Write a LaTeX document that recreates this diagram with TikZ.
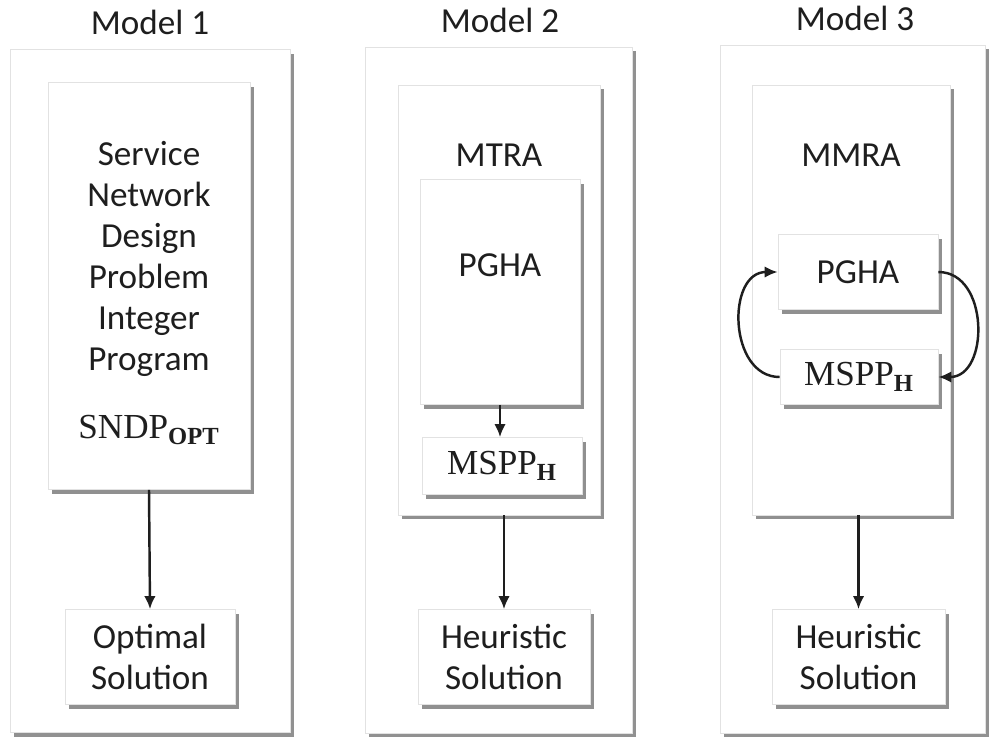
\documentclass[tikz,border=0pt]{standalone}
\usepackage{amsmath}
\usepackage[no-math]{fontspec}
\setmainfont{Carlito}
\newfontfamily\serifm{Liberation Serif}
\usetikzlibrary{arrows.meta,positioning,shadows}
\definecolor{EdgeGray}{HTML}{E2E2E2}
\definecolor{ShadeGray}{HTML}{858585}
\definecolor{InkGray}{HTML}{1E1E1E}
\newcommand{\subname}[2]{{\serifm #1}$_{\text{\serifm\bfseries #2}}$}

\begin{document}
\begin{tikzpicture}[x=0.02cm, y=-0.02cm,
    box/.style={draw=EdgeGray, fill=white, inner sep=0pt,
      drop shadow={shadow xshift=2.5pt, shadow yshift=-2.5pt, fill=ShadeGray, opacity=0.9}},
    txt/.style={text=InkGray, font=\fontsize{20}{23.3}\selectfont, align=center},
    arr/.style={-{Latex[length=2.6mm, width=2.3mm]}, line width=1.4pt, draw=InkGray}]
  \useasboundingbox (0,0) rectangle (997,738);

  % Model 1
  \node[txt] (t1) at (150,22) {Model 1};
  \node[box, minimum width=5.6cm, minimum height=13.66cm] (m1) at (150,391) {};
  \node[box, minimum width=4.04cm, minimum height=8.14cm] (snd) at (149,286) {};
  \node[txt] (sndtxt) at (149,293) {Service\\Network\\Design\\Problem\\Integer\\Program\\[0.54cm]\subname{SNDP}{OPT}};
  \node[box, minimum width=3.4cm, minimum height=1.9cm] (opt) at (150,657) {};
  \node[txt] (opttxt) at (150,657) {Optimal\\Solution};
  \draw[arr] (snd.south) -- (opt.north);

  % Model 2
  \node[txt] (t2) at (500,20) {Model 2};
  \node[box, minimum width=5.34cm, minimum height=13.72cm] (m2) at (498.5,390) {};
  \node[box, minimum width=4.04cm, minimum height=8.6cm] (mtra) at (499,300) {};
  \node[txt] (mtratxt) at (499,155) {MTRA};
  \node[box, minimum width=3.2cm, minimum height=4.5cm] (pgha2) at (500,292) {};
  \node[txt] (pgha2txt) at (500,265) {PGHA};
  \node[box, minimum width=3.2cm, minimum height=1.14cm] (mspp2) at (502,466) {};
  \node[txt] (mspp2txt) at (502,466) {\subname{MSPP}{H}};
  \node[box, minimum width=3.44cm, minimum height=1.9cm] (heur2) at (504,657) {};
  \node[txt] (heur2txt) at (504,657) {Heuristic\\Solution};
  \draw[arr] (pgha2.south) -- (pgha2.south |- mspp2.north);
  \draw[arr] (mtra.south -| heur2.north) -- (heur2.north);

  % Model 3
  \node[txt] (t3) at (855,18) {Model 3};
  \node[box, minimum width=5.3cm, minimum height=13.76cm] (m3) at (852.5,389) {};
  \node[box, minimum width=3.96cm, minimum height=8.6cm] (mmra) at (851,300) {};
  \node[txt] (mmratxt) at (851,155) {MMRA};
  \node[box, minimum width=3.2cm, minimum height=1.5cm] (pgha3) at (858,272) {};
  \node[txt] (pgha3txt) at (858,272) {PGHA};
  \node[box, minimum width=3.16cm, minimum height=1.1cm] (mspp3) at (859,377) {};
  \node[txt] (mspp3txt) at (859,377) {\subname{MSPP}{H}};
  \node[box, minimum width=3.46cm, minimum height=1.9cm] (heur3) at (858.5,657) {};
  \node[txt] (heur3txt) at (858.5,657) {Heuristic\\Solution};
  \draw[arr] (pgha3.east) to[out=0, in=0, looseness=1.25] (mspp3.east);
  \draw[arr] (mspp3.west) to[out=180, in=180, looseness=1.25] (pgha3.west);
  \draw[arr] (mmra.south -| heur3.north) -- (heur3.north);
\end{tikzpicture}
\end{document}
